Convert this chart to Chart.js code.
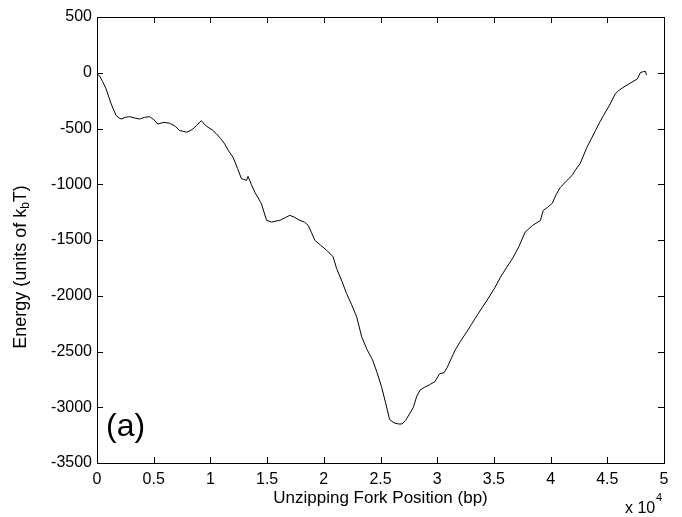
<!DOCTYPE html>
<html>
<head>
<meta charset="utf-8">
<script src="https://cdn.jsdelivr.net/npm/chart.js@4.4.1/dist/chart.umd.min.js"></script>
<style>
  html, body { margin: 0; padding: 0; background: #fff; }
  #wrap { width: 682px; height: 517px; }
</style>
</head>
<body>
<div id="wrap"><canvas id="c" width="682" height="517"></canvas></div>
<script>
// fork position (bp) and energy (kbT)
const forkPos = [0,220,500,810,1050,1250,1500,1700,1950,2140,2500,2870,3300,3750,4200,4640,5000,5370,5900,6400,
  6900,7290,7600,7880,8200,8460,8800,9200,9500,9790,10200,10530,10900,11260,11600,12000,12400,12740,12900,13180,
  13320,13600,13910,14200,14500,14950,15390,15800,16120,16600,17000,17400,17890,18300,18620,18900,19210,19700,20250,20830,
  21130,21600,22010,22450,22900,23340,23800,24300,24700,25100,25450,25800,26200,26600,26900,27200,27500,27900,28200,28500,
  28900,29300,29800,30200,30600,30900,31250,31600,32100,32600,33000,33500,34000,34400,35100,35600,36100,36700,37200,37750,
  38400,39100,39350,39700,40150,40500,40850,41400,41900,42200,42600,43200,43600,43950,44300,44650,45200,45700,46000,46350,
  47000,47650,47930,48200,48370,48450];
const energy = [-15,-27,-80,-146,-220,-280,-340,-385,-405,-415,-400,-394,-405,-415,-400,-394,-420,-460,-445,-453,
  -480,-519,-525,-534,-520,-504,-470,-430,-465,-489,-515,-548,-590,-638,-700,-758,-860,-951,-955,-966,
  -930,-1000,-1070,-1120,-1175,-1324,-1339,-1330,-1324,-1300,-1279,-1295,-1324,-1340,-1369,-1430,-1503,-1545,-1592,-1652,
  -1756,-1870,-1980,-2080,-2189,-2368,-2480,-2575,-2690,-2820,-2960,-3110,-3140,-3150,-3150,-3120,-3070,-3000,-2900,-2845,
  -2820,-2800,-2770,-2700,-2690,-2640,-2560,-2485,-2400,-2325,-2260,-2180,-2100,-2040,-1925,-1830,-1750,-1655,-1560,-1430,
  -1370,-1325,-1235,-1210,-1170,-1090,-1030,-970,-920,-870,-815,-670,-590,-520,-450,-385,-290,-190,-160,-135,
  -95,-55,3,10,12,-20];

const xTicks = [0,5000,10000,15000,20000,25000,30000,35000,40000,45000,50000];
const xTickLabels = ['0','0.5','1','1.5','2','2.5','3','3.5','4','4.5','5'];
const yTicks = [500,0,-500,-1000,-1500,-2000,-2500,-3000,-3500];

const FONT = '"Liberation Sans", Arial, Helvetica, sans-serif';

// matlab style box, inward ticks and the texts
const matlabAxes = {
  id: 'matlabAxes',
  afterDraw(chart) {
    const ctx = chart.ctx, a = chart.chartArea;
    const xs = chart.scales.x, ys = chart.scales.y;
    ctx.save();
    ctx.strokeStyle = '#000';
    ctx.lineWidth = 1;
    ctx.strokeRect(Math.round(a.left) + 0.5, Math.round(a.top) + 0.5,
      Math.round(a.right - a.left), Math.round(a.bottom - a.top));
    ctx.beginPath();
    xTicks.forEach(v => {
      const px = Math.round(xs.getPixelForValue(v)) + 0.5;
      ctx.moveTo(px, a.bottom); ctx.lineTo(px, a.bottom - 6);
      ctx.moveTo(px, a.top); ctx.lineTo(px, a.top + 6);
    });
    yTicks.forEach(v => {
      const py = Math.round(ys.getPixelForValue(v)) + 0.5;
      ctx.moveTo(a.left, py); ctx.lineTo(a.left + 6, py);
      ctx.moveTo(a.right, py); ctx.lineTo(a.right - 6, py);
    });
    ctx.stroke();

    ctx.fillStyle = '#000';
    ctx.textBaseline = 'middle';
    // x title
    ctx.font = '17px ' + FONT;
    ctx.textAlign = 'center';
    ctx.fillText('Unzipping Fork Position (bp)', (a.left + a.right) / 2, 498);
    // x 10^4
    ctx.textAlign = 'left';
    ctx.font = '16px ' + FONT;
    ctx.fillText('x 10', 625, 509);
    ctx.font = '11px ' + FONT;
    ctx.fillText('4', 656, 498);
    // (a)
    ctx.font = '32px ' + FONT;
    ctx.fillText('(a)', 106, 427);

    // y title with subscript
    const p1 = 'Energy (units of k', p2 = 'b', p3 = 'T)';
    ctx.font = '18px ' + FONT;
    const w1 = ctx.measureText(p1).width, w3 = ctx.measureText(p3).width;
    ctx.font = '12px ' + FONT;
    const w2 = ctx.measureText(p2).width;
    const total = w1 + w2 + w3;
    ctx.translate(21, 267);
    ctx.rotate(-Math.PI / 2);
    let x0 = -total / 2;
    ctx.font = '18px ' + FONT;
    ctx.fillText(p1, x0, 0);
    ctx.font = '12px ' + FONT;
    ctx.fillText(p2, x0 + w1, 5);
    ctx.font = '18px ' + FONT;
    ctx.fillText(p3, x0 + w1 + w2, 0);
    ctx.restore();
  }
};

new Chart(document.getElementById('c'), {
  type: 'line',
  data: {
    datasets: [{
      data: forkPos.map((x, i) => ({ x: x, y: energy[i] })),
      borderColor: '#000',
      borderWidth: 1,
      pointRadius: 0,
      tension: 0,
      fill: false
    }]
  },
  options: {
    responsive: false,
    animation: false,
    layout: { padding: { left: 0, top: 17, right: 18, bottom: 0 } },
    plugins: { legend: { display: false }, tooltip: { enabled: false } },
    scales: {
      x: {
        type: 'linear',
        min: 0, max: 50000,
        grid: { display: false, drawTicks: false },
        border: { display: false },
        afterBuildTicks: s => { s.ticks = xTicks.map(v => ({ value: v })); },
        afterFit: s => { s.height = 54; },
        ticks: {
          padding: 7,
          color: '#000',
          font: { family: FONT, size: 16 },
          maxRotation: 0,
          callback: (v) => xTickLabels[xTicks.indexOf(v)]
        }
      },
      y: {
        min: -3500, max: 500,
        grid: { display: false, drawTicks: false },
        border: { display: false },
        afterBuildTicks: s => { s.ticks = yTicks.map(v => ({ value: v })); },
        afterFit: s => { s.width = 97; },
        ticks: {
          padding: 5,
          color: '#000',
          font: { family: FONT, size: 16 },
          callback: (v) => String(v)
        }
      }
    }
  },
  plugins: [matlabAxes]
});
</script>
</body>
</html>
